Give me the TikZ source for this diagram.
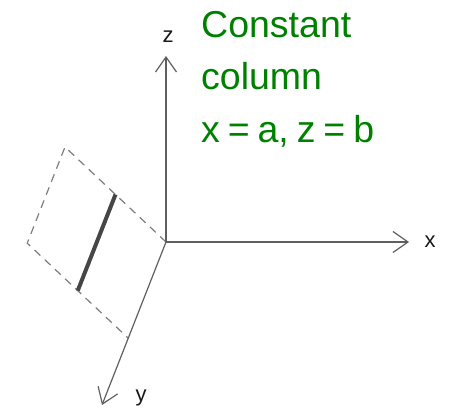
\documentclass[tikz,border=0pt]{standalone}
\usepackage{fontspec}
\setmainfont{Liberation Sans}
\usetikzlibrary{arrows.meta,calc}
\definecolor{txtgreen}{RGB}{0,128,0}
\definecolor{axisgray}{RGB}{95,95,95}
\definecolor{dashgray}{RGB}{125,125,125}
\definecolor{colgray}{RGB}{70,70,70}
\newcommand\capgap{\hspace{7.9pt}}
\begin{document}
\begin{tikzpicture}[x=1pt,y=-1pt,
  axis/.style={draw=axisgray,line width=1.2pt,-{Straight Barb[length=15pt,width=21pt,line width=1.2pt]}},
  dashedge/.style={draw=dashgray,line width=1.2pt,dash pattern=on 8pt off 6pt},
  colline/.style={draw=colgray,line width=4pt},
  axislabel/.style={font=\fontsize{22}{22}\selectfont,text=black!90,inner sep=0pt},
  caption/.style={font=\fontsize{37.5}{37.5}\selectfont,text=txtgreen,inner sep=0pt,anchor=base west}]
\useasboundingbox (0,0) rectangle (450,412);
\coordinate (O) at (166,242);
\coordinate (Z) at (166,56);
\coordinate (X) at (409,242);
\coordinate (Y) at (102,405);
\coordinate (B) at ($(O)!0.59!(Y)$);
\coordinate (T) at (65,147);
\coordinate (L) at ($(T)+(B)-(O)$);
\coordinate (C1) at ($(O)!0.5!(T)$);
\coordinate (C2) at ($(B)!0.5!(L)$);
\draw[dashedge] (O) -- (T) -- (L) -- (B);
\draw[colline] (C1) -- (C2);
\draw[axis] (O) -- (Z);
\draw[axis] (O) -- (X);
\draw[axis] (O) -- (Y);
\node[axislabel] (zl) at (168,37) {z};
\node[axislabel] (xl) at (430,242) {x};
\node[axislabel] (yl) at (141,398) {y};
\node[caption] (cap1) at (201,38) {Constant};
\node[caption] (cap2) at (201,90) {column};
\node[caption] (cap3) at (201,142) {x\capgap=\capgap a,\capgap z\capgap=\capgap b};
\end{tikzpicture}
\end{document}
